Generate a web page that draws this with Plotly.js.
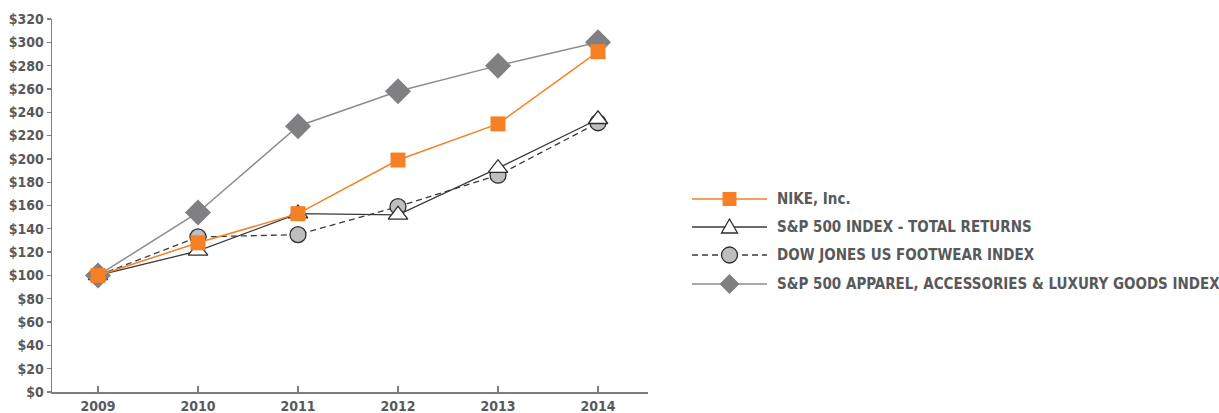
<!DOCTYPE html>
<html><head><meta charset="utf-8">
<script src="https://cdn.plot.ly/plotly-3.0.1.min.js"></script>
<style>html,body{margin:0;padding:0;background:#fff}#chart{width:1219px;height:413px}</style>
</head><body><div id="chart"></div>
<script>
const years = ['2009','2010','2011','2012','2013','2014'];
const nike = [100, 128, 153, 199, 230, 292];
const sp500 = [100, 121, 153, 152, 192, 234];
const footwear = [100, 133, 135, 159, 186, 231];
const apparel = [100, 154, 228, 258, 280, 300];
const yTickVals = [0,20,40,60,80,100,120,140,160,180,200,220,240,260,280,300,320];
const yTickText = yTickVals.map(v => '$' + v);
const legendNames = ['NIKE, Inc.', 'S&P 500 INDEX - TOTAL RETURNS', 'DOW JONES US FOOTWEAR INDEX',
                     'S&P 500 APPAREL, ACCESSORIES & LUXURY GOODS INDEX'];

const FONT = '"DejaVu Sans Condensed", "DejaVu Sans", sans-serif';
const TXT = '#58595b';

const styles = {
  nike: {line: {color: '#f58025', width: 1.5},
         marker: {symbol: 'square', size: 15, color: '#f58025', line: {width: 0}}},
  sp: {line: {color: '#3a3a3a', width: 1.3},
       marker: {symbol: 'triangle-up', size: 17, color: '#ffffff', line: {color: '#2e2e2e', width: 1.3}}},
  foot: {line: {color: '#3a3a3a', width: 1.3, dash: '6px,4px'},
         marker: {symbol: 'circle', size: 16, color: '#bcbec0', line: {color: '#2e2e2e', width: 1.3}}},
  app: {line: {color: '#8c8c8e', width: 1.5},
        marker: {symbol: 'diamond', size: 20, color: '#808083', line: {width: 0}}}
};

const traces = [
  Object.assign({x: years, y: footwear, name: legendNames[2], mode: 'lines+markers'}, styles.foot),
  Object.assign({x: years, y: sp500, name: legendNames[1], mode: 'lines+markers'}, styles.sp),
  Object.assign({x: years, y: apparel, name: legendNames[3], mode: 'lines+markers'}, styles.app),
  Object.assign({x: years, y: nike, name: legendNames[0], mode: 'lines+markers'}, styles.nike)
];

// ---- manual legend (layout only) ----
const L = 52, T = 19, W = 596, H = 373;
const px = x => (x - L) / W;
const py = y => (T + H - y) / H;
const rows = [199, 227, 255, 284];
const symX0 = 692, symX1 = 767, symXc = 729.5, textX = 775;
const shapes = [];
const annotations = [];
const legendStyle = [styles.nike, styles.sp, styles.foot, styles.app];
rows.forEach((ry, i) => {
  const st = legendStyle[i];
  shapes.push({type: 'line', xref: 'paper', yref: 'paper', x0: px(symX0), x1: px(symX1), y0: py(ry), y1: py(ry),
               line: {color: st.line.color, width: st.line.width, dash: st.line.dash || 'solid'}});
  const cx = px(symXc), cy = py(ry);
  const common = {xref: 'paper', yref: 'paper', xsizemode: 'pixel', ysizemode: 'pixel', xanchor: cx, yanchor: cy};
  const mk = st.marker;
  const fill = mk.color, lc = (mk.line && mk.line.width) ? mk.line.color : mk.color, lw = (mk.line && mk.line.width) || 0;
  if (i === 0) {
    shapes.push(Object.assign({type: 'rect', x0: -7, x1: 7, y0: -7, y1: 7, fillcolor: fill, line: {width: 0}}, common));
  } else if (i === 1) {
    shapes.push(Object.assign({type: 'path', path: 'M -8,-6 L 8,-6 L 0,8 Z', fillcolor: fill, line: {color: lc, width: lw}}, common));
  } else if (i === 2) {
    shapes.push(Object.assign({type: 'circle', x0: -8, x1: 8, y0: -8, y1: 8, fillcolor: fill, line: {color: lc, width: lw}}, common));
  } else {
    shapes.push(Object.assign({type: 'path', path: 'M -10,0 L 0,10 L 10,0 L 0,-10 Z', fillcolor: fill, line: {width: 0}}, common));
  }
  annotations.push({xref: 'paper', yref: 'paper', x: px(textX), y: cy, xanchor: 'left', yanchor: 'middle',
                    showarrow: false, text: legendNames[i],
                    font: {family: FONT, size: 15, color: TXT, weight: 'bold'}});
});

const layout = {
  width: 1219, height: 413,
  margin: {l: L, r: 1219 - L - W, t: T, b: 413 - T - H},
  paper_bgcolor: '#ffffff', plot_bgcolor: '#ffffff',
  font: {family: FONT, size: 13, color: TXT},
  showlegend: false,
  shapes: shapes,
  annotations: annotations,
  xaxis: {type: 'category', range: [-0.46, 5.5], showgrid: false, zeroline: false,
          showline: true, linecolor: '#7f7f7f', linewidth: 1.5,
          ticks: 'inside', ticklen: 6, tickcolor: '#7f7f7f', tickwidth: 1.3,
          ticklabelstandoff: 1,
          tickfont: {family: FONT, size: 14, color: TXT, weight: 'bold'}, fixedrange: true},
  yaxis: {range: [0, 320], tickvals: yTickVals, ticktext: yTickText, showgrid: false, zeroline: false,
          showline: true, linecolor: '#7f7f7f', linewidth: 1.5,
          ticks: 'outside', ticklen: 4, tickcolor: '#7f7f7f', tickwidth: 1.3,
          tickfont: {family: FONT, size: 14, color: TXT, weight: 'bold'}, fixedrange: true}
};

Plotly.newPlot('chart', traces, layout, {staticPlot: true, displayModeBar: false});
</script></body></html>
